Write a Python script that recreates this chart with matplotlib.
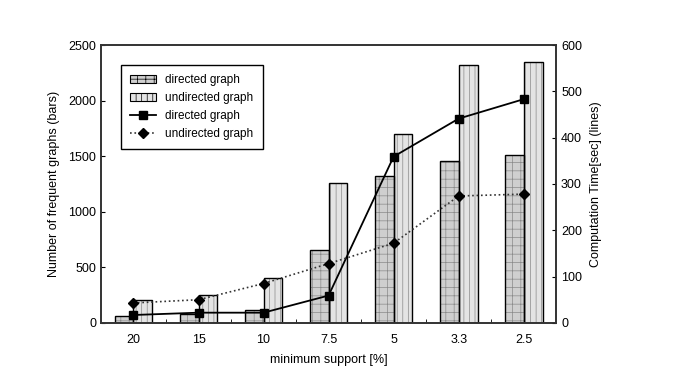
import numpy as np
import matplotlib.pyplot as plt
from matplotlib.ticker import FixedLocator
from matplotlib.patches import Patch

plt.rcParams['font.family'] = ['Liberation Sans', 'DejaVu Sans']
plt.rcParams['hatch.linewidth'] = 0.5

support = ['20', '15', '10', '7.5', '5', '3.3', '2.5']
n_directed = [60, 80, 120, 660, 1320, 1460, 1510]
n_undirected = [205, 250, 405, 1255, 1700, 2320, 2350]
t_directed = [17, 22, 22, 59, 359, 441, 483]
t_undirected = [43, 50, 85, 128, 172, 274, 278]

x = np.arange(len(support))
w = 0.29

fig = plt.figure(figsize=(6.75, 3.83), dpi=100)
ax = fig.add_axes([0.1496, 0.157, 0.6744, 0.7255])

# hatched fill first, then plain black outline on top
ax.bar(x - w/2, n_directed, w, color='#cfcfcf', edgecolor='#8a8a8a',
       linewidth=0, hatch='++')
ax.bar(x + w/2, n_undirected, w, color='#e4e4e4', edgecolor='#8a8a8a',
       linewidth=0, hatch='|||')
ax.bar(x - w/2, n_directed, w, fill=False, edgecolor='black', linewidth=1.0)
ax.bar(x + w/2, n_undirected, w, fill=False, edgecolor='black', linewidth=1.0)

ax.set_xlim(-0.5, len(support) - 0.5)
ax.set_ylim(0, 2500)
ax.set_yticks([0, 500, 1000, 1500, 2000, 2500])
ax.set_xticks(x)
ax.set_xticklabels(support)
ax.tick_params(axis='x', length=0, labelsize=9, pad=8)
ax.xaxis.set_minor_locator(FixedLocator(x[:-1] + 0.5))
ax.tick_params(axis='x', which='minor', direction='in', length=3)
ax.tick_params(axis='y', direction='in', length=3, labelsize=9)
ax.set_xlabel('minimum support [%]', fontsize=9, labelpad=6)
ax.set_ylabel('Number of frequent graphs (bars)', fontsize=9, labelpad=6)

ax2 = ax.twinx()
l1, = ax2.plot(x, t_directed, color='black', linestyle='-', linewidth=1.3,
               marker='s', markersize=6, label='directed graph')
l2, = ax2.plot(x, t_undirected, color='#333333', linestyle=':', linewidth=1.2,
               marker='D', markersize=5, markerfacecolor='black',
               markeredgecolor='black', label='undirected graph')
ax2.set_ylim(0, 600)
ax2.set_yticks([0, 100, 200, 300, 400, 500, 600])
ax2.tick_params(axis='y', direction='in', length=3, labelsize=9)
ax2.set_ylabel('Computation Time[sec] (lines)', fontsize=9, labelpad=6)
for a in (ax, ax2):
    for s in a.spines.values():
        s.set_linewidth(1.2)
        s.set_color('#333333')

h1 = Patch(facecolor='#cfcfcf', edgecolor='black', hatch='++', linewidth=0.8)
h2 = Patch(facecolor='#e4e4e4', edgecolor='black', hatch='|||', linewidth=0.8)
leg = ax2.legend([h1, h2, l1, l2],
                 ['directed graph', 'undirected graph', 'directed graph', 'undirected graph'],
                 loc='upper left', bbox_to_anchor=(0.03, 0.95), fontsize=8.5,
                 frameon=True, fancybox=False, edgecolor='black', framealpha=1,
                 handlelength=2.2, handleheight=0.6, borderpad=0.8, labelspacing=0.5)
leg.get_frame().set_linewidth(1.0)

fig.savefig('out.png', dpi=100)
